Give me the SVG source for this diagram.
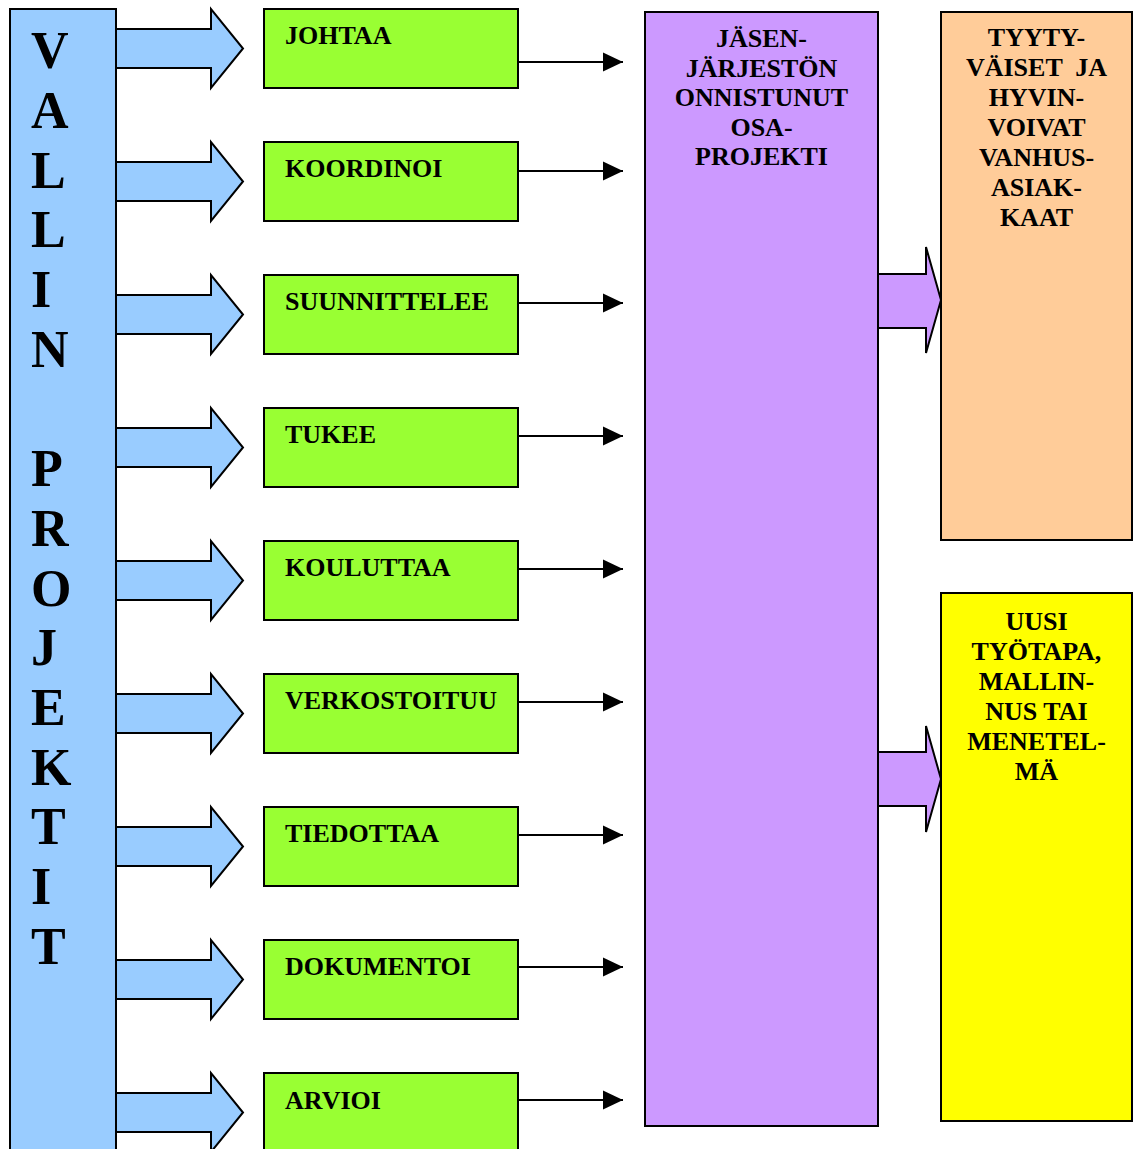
<svg xmlns="http://www.w3.org/2000/svg" xmlns:xlink="http://www.w3.org/1999/xlink" width="1134" height="1149" viewBox="0 0 1134 1149">
<style>
.box{stroke:#000;stroke-width:2}
.blue{fill:#99CCFF}
.green{fill:#99FF33}
.purple{fill:#CC99FF}
.orange{fill:#FFCC99}
.yellow{fill:#FFFF00}
.t{font-family:"Liberation Serif","Times New Roman",serif;font-weight:bold;fill:#000}
.lbl{font-size:26px}
.big{font-size:52px}
.c{text-anchor:middle}
.pre{white-space:pre}
.ln{stroke:#000;stroke-width:2;fill:none}
</style>
<defs>
<path id="barrow" d="M116,-19.5 H211 V-39.5 L243,0 L211,39.5 V19.5 H116 Z" class="box blue"/>
<marker id="ah" markerUnits="userSpaceOnUse" markerWidth="20" markerHeight="20" viewBox="0 0 20 20" refX="20" refY="10" orient="auto">
<path d="M0,0.5 L20,10 L0,19.5 Z" fill="#000"/>
</marker>
</defs>
<rect width="1134" height="1149" fill="#fff"/>

<g id="vallin-projektit">
<rect x="10" y="9" width="106" height="1160" class="box blue"/>
<text class="t big" x="32">
<tspan x="31" y="68.3">V</tspan>
<tspan x="31" y="128">A</tspan>
<tspan x="31" y="187.7">L</tspan>
<tspan x="31" y="247.4">L</tspan>
<tspan x="31" y="307.1">I</tspan>
<tspan x="31" y="366.8">N</tspan>
<tspan x="31" y="486.2">P</tspan>
<tspan x="31" y="545.9">R</tspan>
<tspan x="31" y="605.6">O</tspan>
<tspan x="31" y="665.3">J</tspan>
<tspan x="31" y="725">E</tspan>
<tspan x="31" y="784.7">K</tspan>
<tspan x="31" y="844.4">T</tspan>
<tspan x="31" y="904.1">I</tspan>
<tspan x="31" y="963.8">T</tspan>
</text>
</g>

<g id="connectors">
<use xlink:href="#barrow" href="#barrow" transform="translate(0,48.5)"/>
<use xlink:href="#barrow" href="#barrow" transform="translate(0,181.5)"/>
<use xlink:href="#barrow" href="#barrow" transform="translate(0,314.5)"/>
<use xlink:href="#barrow" href="#barrow" transform="translate(0,447.5)"/>
<use xlink:href="#barrow" href="#barrow" transform="translate(0,580.5)"/>
<use xlink:href="#barrow" href="#barrow" transform="translate(0,713.5)"/>
<use xlink:href="#barrow" href="#barrow" transform="translate(0,846.5)"/>
<use xlink:href="#barrow" href="#barrow" transform="translate(0,979.5)"/>
<use xlink:href="#barrow" href="#barrow" transform="translate(0,1112.5)"/>
<line class="ln" x1="518" y1="62" x2="623" y2="62" marker-end="url(#ah)"/>
<line class="ln" x1="518" y1="171" x2="623" y2="171" marker-end="url(#ah)"/>
<line class="ln" x1="518" y1="303" x2="623" y2="303" marker-end="url(#ah)"/>
<line class="ln" x1="518" y1="436" x2="623" y2="436" marker-end="url(#ah)"/>
<line class="ln" x1="518" y1="569" x2="623" y2="569" marker-end="url(#ah)"/>
<line class="ln" x1="518" y1="702" x2="623" y2="702" marker-end="url(#ah)"/>
<line class="ln" x1="518" y1="835" x2="623" y2="835" marker-end="url(#ah)"/>
<line class="ln" x1="518" y1="967" x2="623" y2="967" marker-end="url(#ah)"/>
<line class="ln" x1="518" y1="1100" x2="623" y2="1100" marker-end="url(#ah)"/>
<path d="M878,274 H926 V247 L941,300 L926,353 V328 H878 Z" class="box purple"/>
<path d="M878,752 H926 V726 L941,779 L926,832 V806 H878 Z" class="box purple"/>
</g>

<g id="johtaa"><rect x="264" y="9" width="254" height="79" class="box green"/><text class="t lbl" x="285" y="44">JOHTAA</text></g>
<g id="koordinoi"><rect x="264" y="142" width="254" height="79" class="box green"/><text class="t lbl" x="285" y="177">KOORDINOI</text></g>
<g id="suunnittelee"><rect x="264" y="275" width="254" height="79" class="box green"/><text class="t lbl" x="285" y="310">SUUNNITTELEE</text></g>
<g id="tukee"><rect x="264" y="408" width="254" height="79" class="box green"/><text class="t lbl" x="285" y="443">TUKEE</text></g>
<g id="kouluttaa"><rect x="264" y="541" width="254" height="79" class="box green"/><text class="t lbl" x="285" y="576">KOULUTTAA</text></g>
<g id="verkostoituu"><rect x="264" y="674" width="254" height="79" class="box green"/><text class="t lbl" x="285" y="709">VERKOSTOITUU</text></g>
<g id="tiedottaa"><rect x="264" y="807" width="254" height="79" class="box green"/><text class="t lbl" x="285" y="842">TIEDOTTAA</text></g>
<g id="dokumentoi"><rect x="264" y="940" width="254" height="79" class="box green"/><text class="t lbl" x="285" y="975">DOKUMENTOI</text></g>
<g id="arvioi"><rect x="264" y="1073" width="254" height="90" class="box green"/><text class="t lbl" x="285" y="1109">ARVIOI</text></g>

<g id="osaprojekti">
<rect x="645" y="12" width="233" height="1114" class="box purple"/>
<text class="t lbl c"><tspan x="761.5" y="47">JÄSEN-</tspan><tspan x="761.5" y="76.5">JÄRJESTÖN</tspan><tspan x="761.5" y="106">ONNISTUNUT</tspan><tspan x="761.5" y="135.5">OSA-</tspan><tspan x="761.5" y="165">PROJEKTI</tspan></text>
</g>

<g id="tyytyvaiset">
<rect x="941" y="12" width="191" height="528" class="box orange"/>
<text class="t lbl c"><tspan x="1036.5" y="46">TYYTY-</tspan><tspan class="pre" x="1036.5" y="76">VÄISET  JA</tspan><tspan x="1036.5" y="106">HYVIN-</tspan><tspan x="1036.5" y="136">VOIVAT</tspan><tspan x="1036.5" y="166">VANHUS-</tspan><tspan x="1036.5" y="196">ASIAK-</tspan><tspan x="1036.5" y="226">KAAT</tspan></text>
</g>

<g id="uusi-tyotapa">
<rect x="941" y="593" width="191" height="528" class="box yellow"/>
<text class="t lbl c"><tspan x="1036.5" y="630">UUSI</tspan><tspan x="1036.5" y="660">TYÖTAPA,</tspan><tspan x="1036.5" y="690">MALLIN-</tspan><tspan x="1036.5" y="720">NUS TAI</tspan><tspan x="1036.5" y="750">MENETEL-</tspan><tspan x="1036.5" y="780">MÄ</tspan></text>
</g>
</svg>
